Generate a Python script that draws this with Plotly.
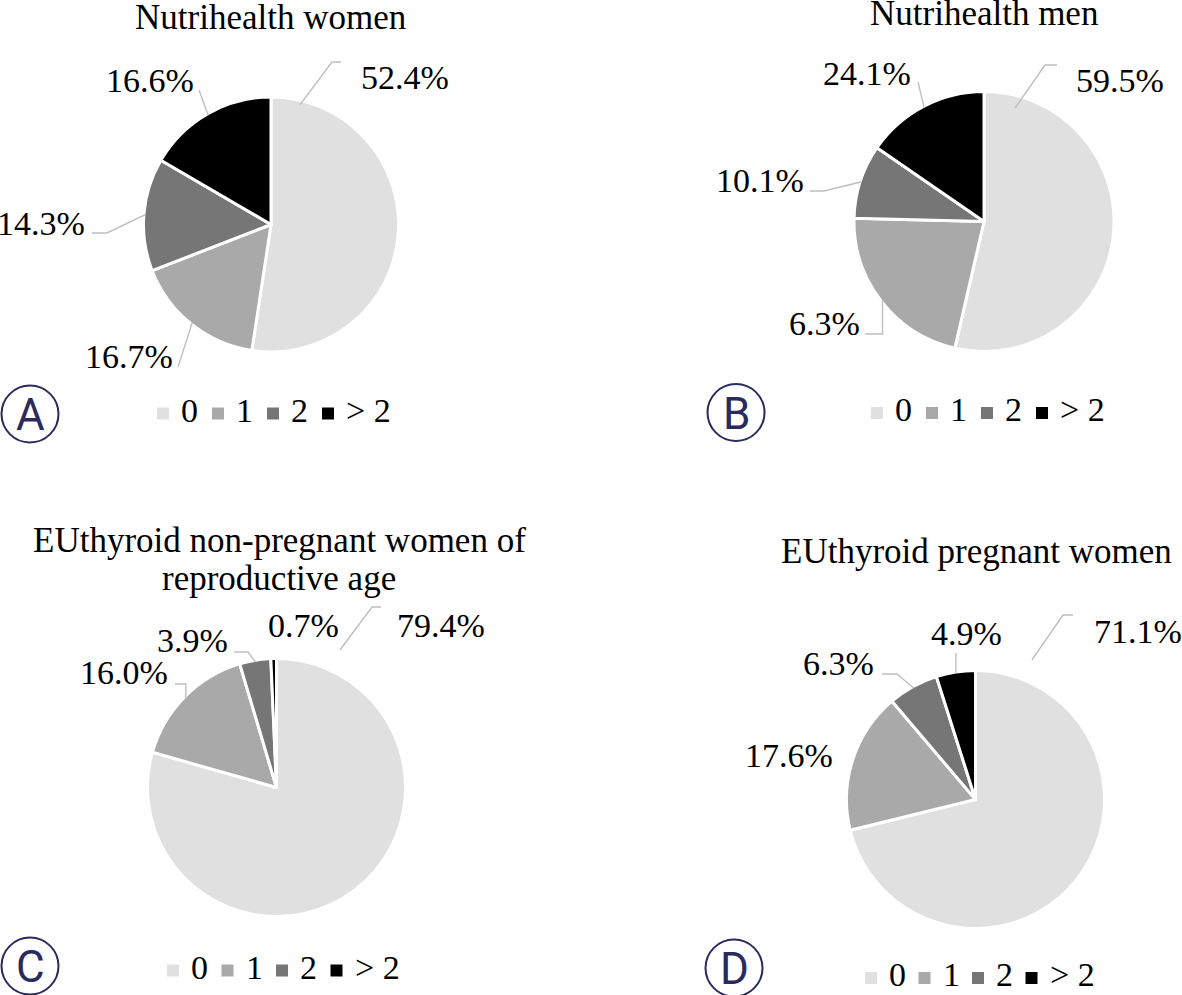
import math
import plotly.graph_objects as go

W, H = 1182, 995

# ---------------- data ----------------
CATEGORIES = ["0", "1", "2", "> 2"]
COLORS = ["#e0e0e0", "#a9a9a9", "#767676", "#000000"]

TITLE_A = ["Nutrihealth women"]
TITLE_B = ["Nutrihealth men"]
TITLE_C = ["EUthyroid non-pregnant women of", "reproductive age"]
TITLE_D = ["EUthyroid pregnant women"]

VALUES_A = [52.4, 16.7, 14.3, 16.6]
# panel B: slice sizes as drawn in the reference (its printed labels differ)
VALUES_B = [53.6, 21.8, 9.2, 15.4]
VALUES_C = [79.4, 16.0, 3.9, 0.7]
VALUES_D = [71.1, 17.6, 6.3, 4.9]

LABELS_A = ["52.4%", "16.7%", "14.3%", "16.6%"]
LABELS_B = ["59.5%", "6.3%", "10.1%", "24.1%"]
LABELS_C = ["79.4%", "16.0%", "3.9%", "0.7%"]
LABELS_D = ["71.1%", "17.6%", "6.3%", "4.9%"]

LETTERS = ["A", "B", "C", "D"]

# ---------------- layout config (pixels) ----------------
SERIF = "Liberation Serif, Times New Roman, serif"
SANS = "Roboto, Noto Sans, sans-serif"
NAVY = "#2a2b5c"
LEADER = "#bfbfbf"
LINE_W = 3
FS = 34

PANELS = [
    dict(values=VALUES_A, labels=LABELS_A, title=TITLE_A, letter=LETTERS[0],
         center=(271, 224.5), r=126,
         title_pos=(270, [17.5]),
         text_pos=[(405, 77.5), (129, 356.5), (41, 223.5), (149.5, 80.5)],
         leaders=[dict(start=(13.6, 123), pts=[(332, 62), (341, 62)]),
                  dict(pts=[(178, 367)]),
                  dict(pts=[(107, 233), (92, 233)]),
                  dict(pts=[(199, 90)])],
         legend=(163, 413.5, 55, 410), circle=(30, 414)),
    dict(values=VALUES_B, labels=LABELS_B, title=TITLE_B, letter=LETTERS[1],
         center=(984, 221.5), r=128.5,
         title_pos=(984, [13.5]),
         text_pos=[(1120, 80.5), (824, 323.5), (760, 180.5), (867, 73.5)],
         leaders=[dict(start=(15.3, 117.7), pts=[(1045, 65), (1057, 65)]),
                  dict(pts=[(None, 334), (865, 334)]),
                  dict(pts=[(824, 191), (810, 191)]),
                  dict(pts=[(918, 82)])],
         legend=(877, 413, 55, 409.5), circle=(736, 412.5)),
    dict(values=VALUES_C, labels=LABELS_C, title=TITLE_C, letter=LETTERS[2],
         center=(276.5, 787.5), r=127.5,
         title_pos=(279, [540.5, 578.5]),
         text_pos=[(441, 625.5), (124, 672.5), (192, 640.5), (303, 625.5)],
         leaders=[dict(start=(24.8, 151.5), pts=[(372, 607), (381, 607)]),
                  dict(pts=[(None, 684), (175, 684)]),
                  dict(pts=[(248, 652), (234, 652)]),
                  None],
         legend=(173, 970.5, 54.5, 967), circle=(30, 966)),
    dict(values=VALUES_D, labels=LABELS_D, title=TITLE_D, letter=LETTERS[3],
         center=(975.5, 799.5), r=127.5,
         title_pos=(976.5, [551.5]),
         text_pos=[(1137.5, 631.5), (788.5, 755.5), (838.5, 663.5), (966, 633.5)],
         leaders=[dict(start=(22.0, 150.5), pts=[(1063, 615), (1073, 615)]),
                  None,
                  dict(pts=[(897, 674), (882, 674)]),
                  dict(pts=[(None, 653)])],
         legend=(871, 978, 53.5, 974.5), circle=(734, 968)),
]

fig = go.Figure()
shapes = []
annotations = []


def polar(cx, cy, ang_deg, dist):
    a = math.radians(ang_deg)
    return cx + dist * math.sin(a), cy - dist * math.cos(a)


for p in PANELS:
    cx, cy = p["center"]
    rv = p["r"]
    R = rv + LINE_W / 2
    vals = p["values"]
    fig.add_trace(go.Pie(
        values=vals, labels=CATEGORIES, sort=False, direction="clockwise", rotation=0,
        marker=dict(colors=COLORS, line=dict(color="white", width=LINE_W)),
        textinfo="none", hoverinfo="label+value", showlegend=False,
        domain=dict(x=[(cx - R) / W, (cx + R) / W], y=[1 - (cy + R) / H, 1 - (cy - R) / H]),
    ))

    # title
    tx, tys = p["title_pos"]
    for line, ty in zip(p["title"], tys):
        annotations.append(dict(x=tx, y=ty, xref="x", yref="y", text=line, showarrow=False,
                                xanchor="center", yanchor="middle",
                                font=dict(family=SERIF, size=35, color="#000")))

    # percentage labels & leader lines
    total = sum(vals)
    cum = 0
    for i, v in enumerate(vals):
        a0 = cum / total * 360
        cum += v
        a1 = cum / total * 360
        mid = (a0 + a1) / 2
        x, y = p["text_pos"][i]
        annotations.append(dict(x=x, y=y, xref="x", yref="y", text=p["labels"][i], showarrow=False,
                                xanchor="center", yanchor="middle",
                                font=dict(family=SERIF, size=FS, color="#000")))
        ld = p["leaders"][i]
        if ld is None:
            continue
        if "start" in ld:
            sx, sy = polar(cx, cy, ld["start"][0], ld["start"][1])
        else:
            sx, sy = polar(cx, cy, mid, rv)
        path = "M%.1f,%.1f" % (sx, sy)
        for (px, py) in ld["pts"]:
            px = sx if px is None else px
            path += " L%.1f,%.1f" % (px, py)
        shapes.append(dict(type="path", path=path, xref="x", yref="y",
                           line=dict(color=LEADER, width=1.4), layer="above"))

    # legend
    lx, ly, pitch, lty = p["legend"]
    xs = [lx + k * pitch for k in range(len(CATEGORIES))]
    fig.add_trace(go.Scatter(x=xs, y=[ly] * len(xs), mode="markers", xaxis="x", yaxis="y",
                             marker=dict(symbol="square", size=12, color=COLORS, line=dict(width=0)),
                             hoverinfo="skip", showlegend=False))
    for k, cat in enumerate(CATEGORIES):
        annotations.append(dict(x=xs[k] + 16, y=lty, xref="x", yref="y", text=cat, showarrow=False,
                                xanchor="left", yanchor="middle",
                                font=dict(family=SERIF, size=FS, color="#000")))

    # circled letter
    ccx, ccy = p["circle"]
    shapes.append(dict(type="circle", xref="x", yref="y", x0=ccx - 28.5, x1=ccx + 28.5,
                       y0=ccy - 28.5, y1=ccy + 28.5, line=dict(color=NAVY, width=2)))
    annotations.append(dict(x=ccx, y=ccy + 1, xref="x", yref="y", text=p["letter"], showarrow=False,
                            xanchor="center", yanchor="middle",
                            font=dict(family=SANS, size=44, color=NAVY)))

fig.update_layout(
    width=W, height=H,
    margin=dict(l=0, r=0, t=0, b=0),
    paper_bgcolor="white", plot_bgcolor="rgba(0,0,0,0)",
    xaxis=dict(range=[0, W], domain=[0, 1], visible=False, fixedrange=True),
    yaxis=dict(range=[H, 0], domain=[0, 1], visible=False, fixedrange=True),
    shapes=shapes, annotations=annotations, showlegend=False,
)

fig.write_html("out.html", config={"displayModeBar": False},
               post_script="document.body.style.margin='0';document.body.style.overflow='hidden';")
